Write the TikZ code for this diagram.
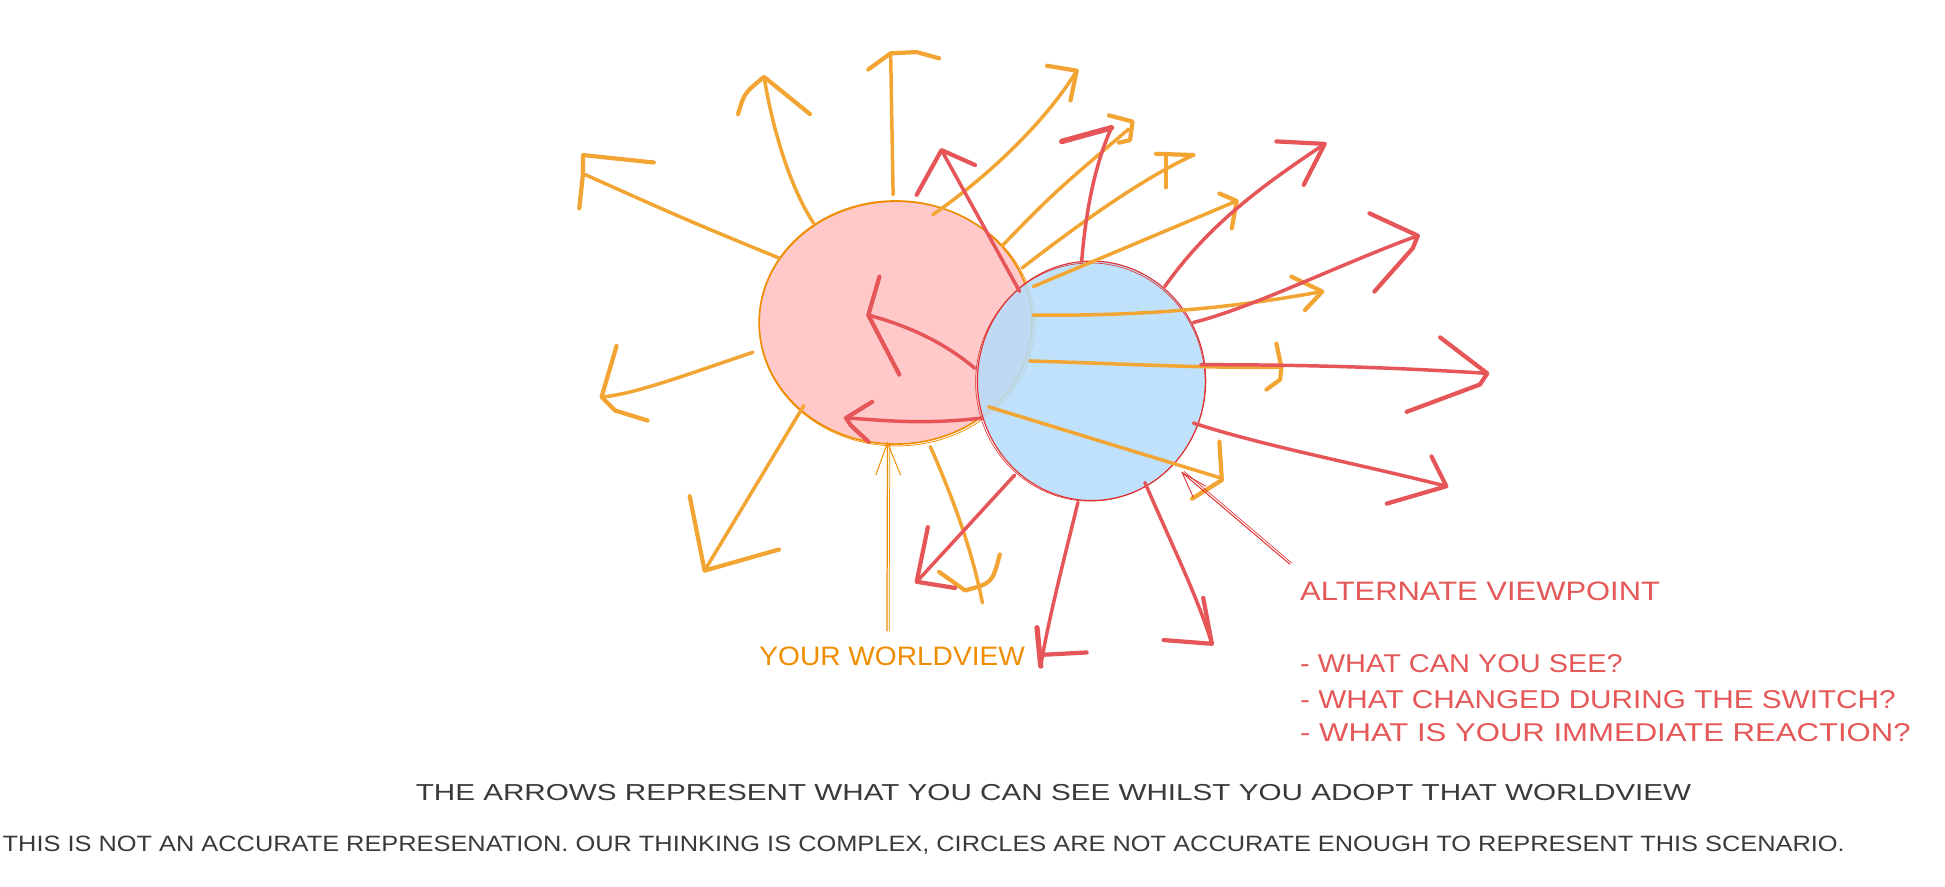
\documentclass[tikz,border=0pt]{standalone}
\usepackage{fontspec}
\setmainfont{Liberation Sans}
\usepackage{graphicx}
\usetikzlibrary{shapes.geometric}
\definecolor{oarrow}{HTML}{F2A533}
\definecolor{rarrow}{HTML}{E65558}
\definecolor{pinkfill}{HTML}{FFC9C9}
\definecolor{bluefill}{HTML}{B4DCFB}
\definecolor{pinkedge}{HTML}{F08C00}
\definecolor{blueedge}{HTML}{E03131}
\definecolor{otext}{HTML}{F08C00}
\definecolor{rtext}{HTML}{E55858}
\definecolor{gtext}{HTML}{3A3A3A}
\begin{document}
\begin{tikzpicture}[x=1pt,y=-1pt,
  oarr/.style={draw=oarrow,line width=2.8pt,line cap=round,line join=round},
  rarr/.style={draw=rarrow,line width=2.8pt,line cap=round,line join=round},
  ohead/.style={oarr,line width=3.4pt},
  rhead/.style={rarr,line width=3.4pt},
  lbl/.style={inner sep=0pt,anchor=west},
]
\useasboundingbox (0,0) rectangle (1568,715);
\fill[white] (0,0) rectangle (1568,715);

% circles
\node[ellipse, draw=pinkedge, line width=1.3pt, fill=pinkfill, minimum width=220pt, minimum height=196pt, inner sep=0pt] (pink) at (722,260) {};
\draw[pinkedge, line width=0.6pt] (723,261) ellipse [x radius=111, y radius=98.5];
\node[ellipse, draw=blueedge, line width=0.9pt, fill=bluefill, fill opacity=0.85, draw opacity=1, minimum width=184pt, minimum height=193pt, inner sep=0pt] (blue) at (880,307) {};
\draw[blueedge, line width=0.5pt] (879,308) ellipse [x radius=92.5, y radius=96];

% orange arrows
\coordinate (o1s) at (628,208); \coordinate (o1t) at (470,140);
\draw[oarr] (o1s) .. controls (555,178) .. (o1t);
\draw[ohead] (527,131) -- (470,125) -- (o1t) -- (467,168);

\coordinate (o2s) at (656,180); \coordinate (o2t) at (616,62);
\draw[oarr] (o2s) .. controls (636,150) and (622,100) .. (o2t);
\draw[ohead] (595,92) .. controls (600,75) .. (o2t) -- (653,92);

\coordinate (o3s) at (720,157); \coordinate (o3t) at (718,43);
\draw[oarr] (o3s) -- (o3t);
\draw[ohead] (700,56) -- (o3t) -- (739,42) -- (757,47);

\coordinate (o4s) at (752,173); \coordinate (o4t) at (868,57);
\draw[oarr] (o4s) .. controls (800,140) and (845,95) .. (o4t);
\draw[ohead] (844,53) -- (o4t) -- (863,81);

\coordinate (o5s) at (808,198); \coordinate (o5t) at (910,104);
\draw[oarr] (o5s) .. controls (850,155) .. (o5t);
\draw[ohead] (894,93) -- (913,98) -- (911,113) -- (902,115);

\coordinate (o6s) at (824,216); \coordinate (o6t) at (962,125);
\draw[oarr] (o6s) .. controls (890,165) and (930,140) .. (o6t);
\draw[ohead] (932,124) -- (o6t);
\draw[ohead] (940,126) -- (940,151);

\coordinate (o7s) at (833,231); \coordinate (o7t) at (997,162);
\draw[oarr] (o7s) -- (o7t);
\draw[ohead] (983,156) -- (o7t) -- (993,184);

\coordinate (o8s) at (833,254); \coordinate (o8t) at (1066,235);
\draw[oarr] (o8s) .. controls (930,255) and (1000,247) .. (o8t);
\draw[ohead] (1041,223) -- (o8t) -- (1052,250);

\coordinate (o9s) at (830,291); \coordinate (o9t) at (1033,296);
\draw[oarr] (o9s) .. controls (900,293) and (970,297) .. (o9t);
\draw[ohead] (1029,277) -- (o9t) -- (1032,306) -- (1021,314);

\coordinate (o10s) at (797,328); \coordinate (o10t) at (983,385);
\draw[oarr] (o10s) -- (o10t);
\draw[ohead] (983,356) -- (985,387) -- (961,402);

\coordinate (o11s) at (648,327); \coordinate (o11t) at (568,460);
\draw[oarr] (o11s) -- (o11t);
\draw[ohead] (556,400) -- (o11t) -- (628,443);

\coordinate (o12s) at (750,360); \coordinate (o12t) at (792,486);
\draw[oarr] (o12s) .. controls (772,410) and (785,450) .. (o12t);
\draw[ohead] (757,461) -- (778,476) .. controls (800,470) .. (806,447);

\coordinate (o13s) at (607,284); \coordinate (o13t) at (485,320);
\draw[oarr] (o13s) .. controls (545,305) and (510,318) .. (o13t);
\draw[ohead] (497,279) -- (o13t) -- (496,331) -- (522,339);

% your worldview pointer
\coordinate (yws) at (715,509); \coordinate (ywt) at (715.5,357);
\draw[pinkedge, line width=1pt] (yws) -- (ywt);
\draw[pinkedge, line width=0.6pt] ([xshift=1.8pt]yws) -- ([xshift=1.8pt]ywt);
\draw[pinkedge, line width=0.8pt] (706,383) -- (ywt) -- (726,383);

% red arrows
\coordinate (r1s) at (822,235); \coordinate (r1t) at (759,121);
\draw[rarr] (r1s) -- (r1t);
\draw[rhead] (739,157) -- (r1t) -- (786,133);

\coordinate (r2s) at (872,211); \coordinate (r2t) at (896,103);
\draw[rarr] (r2s) .. controls (876,160) and (886,125) .. (r2t);
\draw[rhead, line width=4.5pt] (856,114) -- (r2t);

\coordinate (r3s) at (939,231); \coordinate (r3t) at (1068,116);
\draw[rarr] (r3s) .. controls (975,180) and (1020,148) .. (r3t);
\draw[rhead] (1029,114) -- (r3t) -- (1051,149);

\coordinate (r4s) at (962,260); \coordinate (r4t) at (1143,190);
\draw[rarr] (r4s) .. controls (1010,248) and (1080,213) .. (r4t);
\draw[rhead] (1104,172) -- (r4t) -- (1139,200) -- (1108,235);

\coordinate (r5s) at (968,294); \coordinate (r5t) at (1199,301);
\draw[rarr] (r5s) .. controls (1050,294) and (1120,296) .. (r5t);
\draw[rhead] (1161,272) -- (r5t) -- (1193,310) -- (1134,332);

\coordinate (r6s) at (962,341); \coordinate (r6t) at (1166,392);
\draw[rarr] (r6s) .. controls (1020,360) and (1100,375) .. (r6t);
\draw[rhead] (1154,368) -- (r6t) -- (1118,406);

\coordinate (r7s) at (818,383); \coordinate (r7t) at (739,469);
\draw[rarr] (r7s) -- (r7t);
\draw[rhead] (748,425) -- (r7t) -- (770,474);

\coordinate (r8s) at (869,405); \coordinate (r8t) at (839,537);
\draw[rarr] (r8s) .. controls (858,450) and (845,500) .. (r8t);
\draw[rhead, line width=4.2pt] (836,506) -- (r8t);
\draw[rhead] (838,528) -- (876,526);

\coordinate (r9s) at (923,389); \coordinate (r9t) at (977,519);
\draw[rarr] (r9s) .. controls (945,440) and (965,480) .. (r9t);
\draw[rhead] (970,482) -- (r9t) -- (938,516);

\coordinate (r10s) at (786,297); \coordinate (r10t) at (700,254);
\draw[rarr] (r10s) .. controls (760,275) and (730,262) .. (r10t);
\draw[rhead] (709,223) -- (r10t) -- (725,302);

\coordinate (r11s) at (792,337); \coordinate (r11t) at (682,337);
\draw[rarr] (r11s) .. controls (740,343) and (705,338) .. (r11t);
\draw[rhead] (703,324) -- (r11t) -- (686,343) -- (700,356);

% alternate viewpoint pointer
\coordinate (avs) at (1040,455); \coordinate (avt) at (953,381);
\draw[blueedge, line width=0.8pt] (avs) -- (avt);
\draw[blueedge, line width=0.5pt] ([xshift=1.5pt,yshift=1pt]avs) -- ([xshift=1.5pt,yshift=1pt]avt);
\draw[blueedge, line width=0.7pt] (962,401) -- (avt) -- (972,392);

% texts
\node[lbl, text=otext] (yourwv) at (612,529) {\resizebox{214pt}{15pt}{YOUR WORLDVIEW}};
\node[lbl, text=rtext] (alt) at (1048,477) {\resizebox{290pt}{15pt}{ALTERNATE VIEWPOINT}};
\node[lbl, text=rtext] (q1) at (1048,535) {\resizebox{260pt}{14.5pt}{- WHAT CAN YOU SEE?}};
\node[lbl, text=rtext] (q2) at (1048,564) {\resizebox{480pt}{14.5pt}{- WHAT CHANGED DURING THE SWITCH?}};
\node[lbl, text=rtext] (q3) at (1048,591) {\resizebox{492pt}{14.5pt}{- WHAT IS YOUR IMMEDIATE REACTION?}};
\node[lbl, text=gtext] (note1) at (335,639) {\resizebox{1028pt}{13pt}{THE ARROWS REPRESENT WHAT YOU CAN SEE WHILST YOU ADOPT THAT WORLDVIEW}};
\node[lbl, text=gtext] (note2) at (2,681) {\resizebox{1485pt}{12.5pt}{THIS IS NOT AN ACCURATE REPRESENATION. OUR THINKING IS COMPLEX, CIRCLES ARE NOT ACCURATE ENOUGH TO REPRESENT THIS SCENARIO.}};
\end{tikzpicture}
\end{document}
